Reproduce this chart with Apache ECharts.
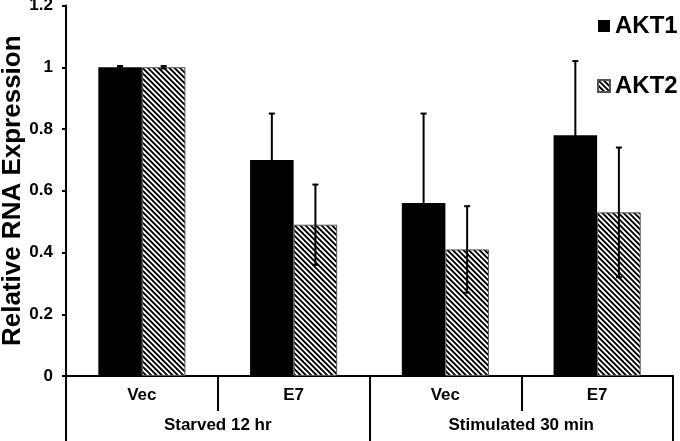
<!DOCTYPE html>
<html>
<head>
<meta charset="utf-8">
<script src="https://cdn.jsdelivr.net/npm/echarts@6/dist/echarts.min.js"></script>
<style>
  html, body { margin: 0; padding: 0; background: #fff; }
  #chart { width: 680px; height: 441px; }
</style>
</head>
<body>
<div id="chart"></div>
<script>
const categories = ['Vec', 'E7', 'Vec', 'E7'];
const groups = ['Starved 12 hr', 'Stimulated 30 min'];
const seriesNames = ['AKT1', 'AKT2'];
const akt1 = [1.0, 0.70, 0.56, 0.78];
const akt1Err = [0.004, 0.15, 0.29, 0.24];
const akt2 = [1.0, 0.49, 0.41, 0.53];
const akt2Err = [0.004, 0.13, 0.14, 0.21];

const FONT = 'Liberation Sans, Arial, sans-serif';
const BAR_FRAC = 0.287;

// hatch pattern (lines descending to the right)
function makeHatch() {
  const c = document.createElement('canvas');
  const s = 16;
  c.width = s; c.height = s;
  const ctx = c.getContext('2d');
  ctx.fillStyle = '#fff';
  ctx.fillRect(0, 0, s, s);
  ctx.strokeStyle = '#000';
  ctx.lineWidth = 1.9;
  const p = s / 3;
  for (let k = -4; k <= 4; k++) {
    const c0 = k * p;
    ctx.beginPath();
    ctx.moveTo(c0 - s, -s);
    ctx.lineTo(c0 + 2 * s, 2 * s);
    ctx.stroke();
  }
  return c;
}
const hatch = { image: makeHatch(), repeat: 'repeat' };

function errData(vals, errs) {
  return vals.map((v, i) => [i, v, errs[i]]);
}

function errRender(side) {
  return function (params, api) {
    const idx = api.value(0);
    const val = api.value(1);
    const err = api.value(2);
    const catW = api.size([1, 0])[0];
    const bw = catW * BAR_FRAC;
    const off = side * bw / 2;
    const top = api.coord([idx, val + err]);
    const bot = api.coord([idx, val - err]);
    const x = top[0] + off;
    const cap = 3;
    const st = { stroke: '#000', lineWidth: 2 };
    return {
      type: 'group',
      children: [
        { type: 'line', shape: { x1: x, y1: top[1], x2: x, y2: bot[1] }, style: st },
        { type: 'line', shape: { x1: x - cap, y1: top[1], x2: x + cap, y2: top[1] }, style: st },
        { type: 'line', shape: { x1: x - cap, y1: bot[1], x2: x + cap, y2: bot[1] }, style: st }
      ]
    };
  };
}

const chart = echarts.init(document.getElementById('chart'), null, { renderer: 'canvas' });
chart.setOption({
  animation: false,
  backgroundColor: '#fff',
  textStyle: { fontFamily: FONT },
  grid: { left: 66, right: 7, top: 5.5, bottom: 65, containLabel: false, outerBoundsMode: 'none' },
  legend: {
    orient: 'vertical',
    left: 592,
    top: 9,
    itemGap: 36,
    itemWidth: 12,
    itemHeight: 12,
    icon: 'rect',
    textStyle: { fontFamily: FONT, fontSize: 24, fontWeight: 'bold', color: '#000' },
    data: seriesNames
  },
  xAxis: [
    {
      type: 'category',
      data: categories,
      position: 'bottom',
      offset: 0,
      axisLine: { lineStyle: { color: '#000', width: 2 } },
      axisTick: { show: true, length: 35, lineStyle: { color: '#000', width: 2 } },
      axisLabel: { margin: 11, fontFamily: FONT, fontSize: 17, fontWeight: 'bold', color: '#000' }
    },
    {
      type: 'category',
      data: groups,
      position: 'bottom',
      offset: 0,
      axisLine: { lineStyle: { color: '#000', width: 2 } },
      axisTick: { show: true, length: 66, lineStyle: { color: '#000', width: 2 } },
      axisLabel: { margin: 41, fontFamily: FONT, fontSize: 17, fontWeight: 'bold', color: '#000' }
    }
  ],
  yAxis: {
    type: 'value',
    min: 0,
    max: 1.2,
    interval: 0.2,
    name: 'Relative RNA Expression',
    nameLocation: 'middle',
    nameGap: 40,
    nameMoveOverlap: false,
    nameTextStyle: { fontFamily: FONT, fontSize: 26, fontWeight: 'bold', color: '#000' },
    axisLine: { show: true, lineStyle: { color: '#000', width: 2 } },
    axisTick: { show: true, length: 4, lineStyle: { color: '#000', width: 2 } },
    axisLabel: { margin: 13, fontFamily: FONT, fontSize: 17, fontWeight: 'bold', color: '#000' },
    splitLine: { show: false }
  },
  series: [
    {
      name: 'AKT1',
      type: 'bar',
      data: akt1,
      barWidth: (BAR_FRAC * 100) + '%',
      barGap: '0%',
      itemStyle: { color: '#000' },
      z: 2
    },
    {
      name: 'AKT2',
      type: 'bar',
      data: akt2,
      barWidth: (BAR_FRAC * 100) + '%',
      barGap: '0%',
      itemStyle: { color: hatch, borderColor: '#555', borderWidth: 1 },
      z: 2
    },
    {
      type: 'custom',
      name: 'AKT1 err',
      renderItem: errRender(-1),
      data: errData(akt1, akt1Err),
      encode: { x: 0, y: 1 },
      z: 5,
      silent: true
    },
    {
      type: 'custom',
      name: 'AKT2 err',
      renderItem: errRender(1),
      data: errData(akt2, akt2Err),
      encode: { x: 0, y: 1 },
      z: 5,
      silent: true
    }
  ]
});
</script>
</body>
</html>
